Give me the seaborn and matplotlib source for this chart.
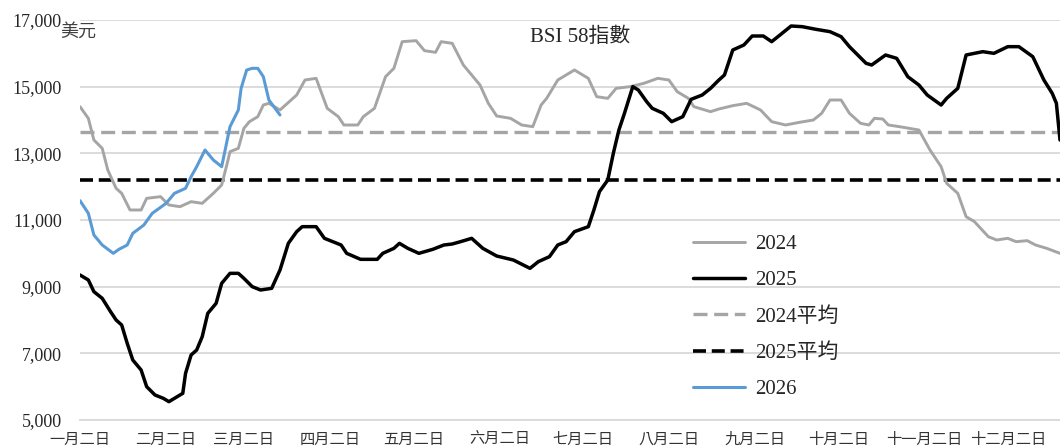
import numpy as np
import pandas as pd
import matplotlib
matplotlib.use("Agg")
import matplotlib.pyplot as plt
import seaborn as sns

# ---------------- data (day offsets from Jan 2) ----------------
days_2024 = [0, 3, 5, 8, 10, 13, 15, 18, 22, 24, 29, 32, 36, 40, 44, 48, 51, 53, 54, 57,
             59, 61, 64, 66, 68, 72, 76, 78, 81, 85, 87, 89, 93, 95, 100, 102, 106, 110, 113, 116,
             121, 124, 128, 130, 134, 138, 141, 144, 147, 150, 155, 159, 163, 166, 168, 172, 175, 178, 183, 186,
             190, 193, 198, 203, 208, 212, 215, 219, 221, 227, 230, 235, 240, 245, 249, 254, 259, 264, 267, 270,
             274, 277, 281, 284, 286, 289, 291, 295, 302, 306, 310, 312, 316, 319, 322, 327, 330, 334, 337, 341,
             344, 348, 352.8]
vals_2024 = [14400, 14050, 13400, 13150, 12500, 11950, 11800, 11300, 11300, 11650, 11700, 11450, 11400, 11550, 11500, 11800, 12050, 12700, 13050, 13150,
             13750, 13950, 14100, 14450, 14500, 14300, 14600, 14750, 15200, 15250, 14800, 14350, 14100, 13850, 13850, 14100, 14350, 15300, 15550, 16350,
             16380, 16080, 16030, 16350, 16300, 15650, 15350, 15050, 14500, 14120, 14050, 13850, 13800, 14450, 14650, 15200, 15350, 15500, 15250, 14700,
             14650, 14950, 15000, 15100, 15250, 15200, 14850, 14650, 14400, 14250, 14330, 14430, 14500, 14300, 13950, 13850, 13930, 14000, 14200, 14600,
             14600, 14200, 13900, 13850, 14050, 14030, 13850, 13800, 13700, 13100, 12600, 12100, 11800, 11100, 10950, 10500, 10400, 10450, 10350, 10380,
             10250, 10150, 10000]

days_2025 = [0, 3, 5, 8, 11, 13, 15, 17, 19, 22, 24, 27, 30, 32, 34, 37, 38, 40, 42, 44,
             46, 49, 51, 54, 57, 59, 62, 65, 69, 72, 75, 78, 80, 85, 88, 91, 94, 96, 101, 107,
             109, 113, 115, 118, 122, 127, 131, 134, 137, 141, 145, 150, 156, 162, 165, 169, 172, 175, 178, 183,
             185, 187, 190, 192, 194, 196, 199, 201, 204, 206, 210, 213, 217, 220, 224, 227, 230, 232, 235, 239,
             242, 246, 249, 252, 256, 260, 265, 270, 274, 277, 280, 283, 285, 290, 294, 298, 302, 305, 310, 312,
             316, 319, 325, 329, 334, 338, 343, 347, 350, 351.5, 352.8]
vals_2025 = [9350, 9200, 8850, 8650, 8250, 8000, 7850, 7300, 6800, 6500, 6000, 5750, 5650, 5550, 5650, 5800, 6400, 6950, 7100, 7500,
             8200, 8500, 9100, 9400, 9400, 9250, 9000, 8900, 8950, 9500, 10300, 10650, 10800, 10800, 10450, 10350, 10250, 10000, 9820, 9820,
             10000, 10150, 10300, 10150, 10000, 10120, 10250, 10280, 10350, 10450, 10150, 9920, 9800, 9550, 9750, 9900, 10250, 10350, 10650, 10800,
             11300, 11850, 12200, 13000, 13700, 14200, 15000, 14900, 14550, 14350, 14200, 13950, 14100, 14620, 14750, 14950, 15200, 15350, 16100, 16250,
             16520, 16520, 16350, 16550, 16820, 16800, 16720, 16650, 16500, 16200, 15950, 15700, 15650, 15950, 15850, 15300, 15050, 14750, 14450, 14650,
             14950, 15950, 16050, 16000, 16200, 16200, 15900, 15200, 14800, 14500, 13400]

days_2026 = [0, 3, 5, 8, 12, 14, 17, 19, 23, 26, 31, 34, 38, 40, 42, 45, 48, 51, 52, 54,
             57, 58, 60, 62, 64, 66, 68, 72]
vals_2026 = [11580, 11200, 10550, 10250, 10000, 10120, 10250, 10600, 10850, 11200, 11500, 11800, 11950, 12300, 12600, 13100, 12800, 12600, 13000, 13800,
             14300, 14950, 15500, 15550, 15550, 15300, 14600, 14150]

avg_2024 = 13650
avg_2025 = 12200

month_labels = ["一月二日", "二月二日", "三月二日", "四月二日", "五月二日", "六月二日",
                "七月二日", "八月二日", "九月二日", "十月二日", "十一月二日", "十二月二日"]
month_ticks = [(pd.Timestamp(2025, m, 2) - pd.Timestamp(2025, 1, 2)).days for m in range(1, 13)]

y_ticks = [5000, 7000, 9000, 11000, 13000, 15000, 17000]

# ---------------- style ----------------
sns.set_theme(style="white")
SERIF = ["Liberation Serif", "Noto Sans CJK TC"]
CJK = ["Noto Sans CJK TC", "DejaVu Sans"]
plt.rcParams["font.family"] = SERIF

C_GRAY = "#A5A5A5"
C_BLACK = "#000000"
C_BLUE = "#5B9BD5"
C_GRID = "#D9D9D9"

fig = plt.figure(figsize=(10.6, 4.48), dpi=100)
ax = fig.add_axes([80 / 1060, 28 / 448, 980 / 1060, 400 / 448])

df24 = pd.DataFrame({"day": days_2024, "val": vals_2024})
df25 = pd.DataFrame({"day": days_2025, "val": vals_2025})
df26 = pd.DataFrame({"day": days_2026, "val": vals_2026})

sns.lineplot(data=df24, x="day", y="val", ax=ax, color=C_GRAY, lw=2.1, label="2024", zorder=3)
sns.lineplot(data=df25, x="day", y="val", ax=ax, color=C_BLACK, lw=2.5, label="2025", zorder=4)
ax.axhline(avg_2024, color=C_GRAY, lw=2.4, dashes=(4.2, 2.0), label="2024平均", zorder=2)
ax.axhline(avg_2025, color=C_BLACK, lw=2.6, dashes=(3.6, 1.6), label="2025平均", zorder=2)
sns.lineplot(data=df26, x="day", y="val", ax=ax, color=C_BLUE, lw=2.2, label="2026", zorder=5)

ax.set_xlim(0, 352.8)
ax.set_ylim(5000, 17000)
ax.set_yticks(y_ticks)
ax.set_yticklabels([f"{v:,}" for v in y_ticks], fontsize=13, family=SERIF)
ax.set_xticks(month_ticks)
ax.set_xticklabels(month_labels, fontsize=11, family=CJK, color="#333333")
ax.set_xlabel("")
ax.set_ylabel("")

ax.yaxis.grid(True, color=C_GRID, lw=1.3)
ax.xaxis.grid(False)
for s in ["top", "right", "left"]:
    ax.spines[s].set_visible(False)
ax.spines["bottom"].set_color(C_GRID)
ax.spines["bottom"].set_linewidth(1.3)
ax.tick_params(axis="y", length=0, pad=13)
ax.tick_params(axis="x", length=5, width=1.2, color=C_GRID, pad=3)

leg = ax.legend(loc="upper left", bbox_to_anchor=(0.617, 0.485), frameon=False,
                fontsize=15, handlelength=2.5, handletextpad=0.5, labelspacing=0.8,
                borderaxespad=0)
for t in leg.get_texts():
    t.set_family(SERIF)

fig.text(60 / 1060, 1 - 32 / 448, "美元", fontsize=13, family=CJK, color="#404040",
         ha="left", va="center")
fig.text(580 / 1060, 1 - 37 / 448, "BSI 58指數", fontsize=15, family=SERIF,
         ha="center", va="center")

fig.savefig("out.png", dpi=100)
